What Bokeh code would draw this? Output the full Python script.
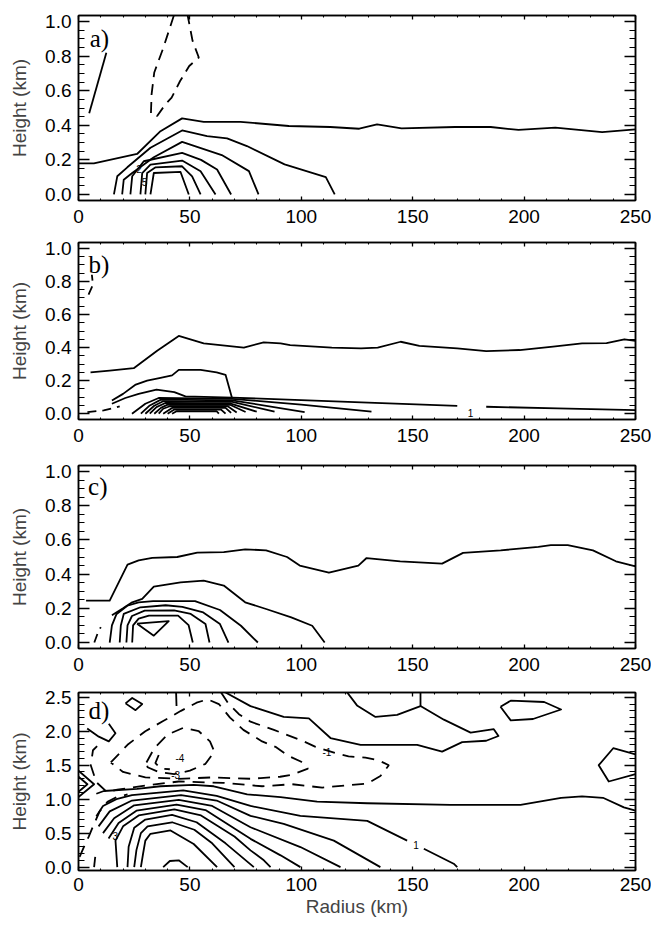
from bokeh.plotting import figure
from bokeh.layouts import column
from bokeh.models import FixedTicker, LinearAxis, Range1d, PrintfTickFormatter
from bokeh.core.properties import value
from bokeh.embed import file_html
from bokeh.resources import INLINE

# ---------------- axes ----------------
RADIUS_TICKS = [0, 50, 100, 150, 200, 250]
RADIUS_MINOR = [0, 10, 20, 30, 40, 50, 60, 70, 80, 90, 100, 110, 120, 130, 140, 150,
                160, 170, 180, 190, 200, 210, 220, 230, 240, 250]
H1_TICKS = [0.0, 0.2, 0.4, 0.6, 0.8, 1.0]
H1_MINOR = [0.0, 0.05, 0.1, 0.15, 0.2, 0.25, 0.3, 0.35, 0.4, 0.45, 0.5, 0.55, 0.6,
            0.65, 0.7, 0.75, 0.8, 0.85, 0.9, 0.95, 1.0]
H2_TICKS = [0.0, 0.5, 1.0, 1.5, 2.0, 2.5]
H2_MINOR = [0.0, 0.1, 0.2, 0.3, 0.4, 0.5, 0.6, 0.7, 0.8, 0.9, 1.0, 1.1, 1.2, 1.3, 1.4,
            1.5, 1.6, 1.7, 1.8, 1.9, 2.0, 2.1, 2.2, 2.3, 2.4, 2.5]

# ---------------- panel a contours (radius km, height km) ----------------
A_TOP_SOLID = [(4.8, 0.47), (12.5, 0.82)]
A_DASHED = [(42.8, 1.035), (38.1, 0.849), (34.0, 0.705), (32.8, 0.579), (32.5, 0.463),
            (35.3, 0.454), (39.0, 0.521), (41.8, 0.560), (45.6, 0.656), (49.7, 0.743),
            (54.0, 0.792), (51.2, 0.888), (49.0, 1.035)]
A_C1 = [(0, 0.18), (6.9, 0.18), (26.3, 0.234), (36.8, 0.366), (46.5, 0.44), (56.2, 0.42),
        (72.7, 0.42), (94.4, 0.396), (113, 0.39), (126, 0.38), (134, 0.405), (145, 0.382),
        (169, 0.39), (185, 0.39), (197.5, 0.373), (214, 0.386), (235, 0.361), (250, 0.376)]
A_C2 = [(15.9, 0.0), (17.4, 0.105), (21.9, 0.157), (32.3, 0.27), (46.5, 0.37), (57.7, 0.337),
        (66.7, 0.324), (75.6, 0.28), (92.5, 0.174), (111, 0.10), (115, 0.0)]
A_C3 = [(19.6, 0.0), (20.3, 0.085), (24.1, 0.124), (33.8, 0.215), (46.5, 0.304), (64.3, 0.228),
        (76.5, 0.135), (80.8, 0.0)]
A_C4 = [(23.3, 0.0), (24.1, 0.105), (29.3, 0.192), (46.5, 0.24), (55, 0.2), (62.2, 0.144),
        (68.5, 0.0)]
A_C5 = [(27.8, 0.0), (28.6, 0.124), (32.3, 0.172), (46.5, 0.196), (54.8, 0.134), (61.5, 0.0)]
A_C6 = [(30, 0.0), (30.8, 0.124), (34.6, 0.157), (46.5, 0.163), (51, 0.105), (54.8, 0.0)]
A_C7 = [(32.3, 0.0), (33.8, 0.124), (45.8, 0.13), (49.5, 0.0)]
A_LABELS = [(27.2, 0.15, "2"), (29.6, 0.07, "5")]

# ---------------- panel b ----------------
B_TOP_DASHED = [(4.5, 0.72), (6.5, 0.78), (6.0, 0.84)]
B_C1 = [(5.4, 0.25), (14, 0.26), (24.8, 0.275), (35.3, 0.381), (45, 0.47), (56.2, 0.425),
        (74.2, 0.40), (83.1, 0.431), (90.7, 0.425), (95, 0.415), (113.7, 0.40), (126.8, 0.395),
        (134.3, 0.40), (144.6, 0.435), (153, 0.41), (170, 0.395), (183, 0.378), (198, 0.385),
        (213, 0.405), (226, 0.425), (237, 0.427), (245, 0.45), (250, 0.44)]
B_C2 = [(15, 0.08), (20, 0.12), (25.7, 0.176), (30.8, 0.20), (36.8, 0.217), (42, 0.232),
        (45, 0.265), (54.8, 0.265), (62, 0.25), (66, 0.235), (69, 0.09)]
B_L1 = [(15, 0.06), (21, 0.095), (27, 0.12), (35, 0.145), (43, 0.13), (48, 0.105), (69, 0.097),
        (100, 0.082), (130, 0.067), (170, 0.047)]
B_L1B = [(183, 0.042), (215, 0.032), (250, 0.022)]
B_B1 = [(24, 0.0), (30, 0.06), (36, 0.095), (69, 0.09), (100, 0.055), (131.5, 0.012)]
B_B2 = [(28, 0.0), (32, 0.05), (37, 0.085), (69, 0.081), (101.5, 0.01)]
B_B3 = [(30, 0.0), (34, 0.048), (38, 0.075), (69, 0.072), (88, 0.012)]
B_B4 = [(32, 0.0), (35, 0.04), (39, 0.065), (68, 0.063), (80, 0.012)]
B_B5 = [(34, 0.0), (37, 0.035), (40, 0.055), (68, 0.054), (75, 0.01)]
B_B6 = [(36, 0.0), (38, 0.03), (41, 0.045), (67, 0.045), (71, 0.008)]
B_B7 = [(38, 0.0), (42, 0.035), (66, 0.035), (68.5, 0.005)]
B_B8 = [(40, 0.0), (43, 0.025), (64, 0.025), (66, 0.0)]
B_B9 = [(42, 0.0), (44, 0.015), (62, 0.015), (63, 0.0)]
B_DASHED_LOW = [(4, 0.01), (11.3, 0.02), (15.9, 0.035), (18.5, 0.045)]
B_LABELS = [(176, 0.005, "1")]

# ---------------- panel c ----------------
C_C1 = [(3.4, 0.245), (14, 0.245), (22, 0.455), (27, 0.48), (33.1, 0.495), (44.3, 0.5),
        (53.3, 0.525), (65.2, 0.528), (74.8, 0.545), (84.2, 0.539), (93.6, 0.50), (99.3, 0.45),
        (112.4, 0.408), (125.6, 0.45), (129.3, 0.494), (144.4, 0.475), (163.2, 0.461),
        (172.6, 0.524), (189.5, 0.539), (206.4, 0.559), (212, 0.569), (219.6, 0.569),
        (230.9, 0.539), (241.2, 0.475), (250, 0.445)]
C_C2 = [(15, 0.16), (20, 0.2), (24.1, 0.235), (28.6, 0.255), (33.8, 0.327), (45.8, 0.352),
        (56.2, 0.362), (65.2, 0.333), (74.8, 0.235), (84.2, 0.196), (95.5, 0.147),
        (104.9, 0.098), (110.5, 0.0)]
C_C3 = [(14, 0.0), (15, 0.1), (17, 0.165), (21.9, 0.215), (27, 0.235), (33.5, 0.242),
        (52.3, 0.242), (63.5, 0.19), (72.9, 0.098), (80.5, 0.0)]
C_C4 = [(18.5, 0.0), (19, 0.1), (20.3, 0.167), (27.8, 0.206), (39.1, 0.218), (46.6, 0.208),
        (56, 0.176), (63.5, 0.108), (67.3, 0.0)]
C_C5 = [(21.5, 0.0), (22, 0.1), (24, 0.155), (29.7, 0.186), (42.9, 0.188), (50.4, 0.167),
        (57, 0.108), (58.8, 0.0)]
C_C6 = [(24.1, 0.0), (24.5, 0.1), (27, 0.14), (31.6, 0.157), (44.7, 0.157), (49.4, 0.102),
        (51.3, 0.0)]
C_TRIANGLE = [(26.3, 0.11), (40.5, 0.125), (33.8, 0.04), (26.3, 0.11)]
C_DASHED = [(7.1, 0.0), (8.5, 0.05), (10, 0.09)]

# ---------------- panel d ----------------
D_D1 = [(8, 1.08), (11.4, 1.12), (26.3, 1.15), (36.8, 1.19), (51.7, 1.21), (60.7, 1.19),
        (75.7, 1.07), (90.7, 1.03), (107.1, 0.965), (129.6, 0.94), (167, 0.915),
        (198.4, 0.915), (216.6, 1.02), (226, 1.04), (235.4, 1.02), (244.8, 0.88), (250, 0.83)]
D_P1A = [(8, 0.75), (11, 0.9), (17, 1.0), (24, 1.06), (47, 1.13), (62, 1.05), (77.2, 0.90),
         (99.6, 0.755), (129.6, 0.68), (147.5, 0.39)]
D_P1B = [(155, 0.27), (168.4, 0.05), (170, 0.0)]
D_P2 = [(9, 0.6), (14, 0.82), (24, 0.98), (46, 1.06), (62, 0.98), (77.2, 0.755),
        (92.1, 0.635), (114.6, 0.39), (135.5, 0.0)]
D_P3 = [(11, 0.5), (16, 0.72), (25, 0.91), (45, 0.99), (60, 0.9), (77.2, 0.587),
        (99.6, 0.295), (117.6, 0.0)]
D_P4 = [(13.5, 0.42), (18, 0.65), (26, 0.83), (44, 0.92), (57, 0.84), (77.2, 0.416),
        (90.7, 0.173), (99.6, 0.0)]
D_P5 = [(17.4, 0.0), (16.6, 0.39), (20, 0.6), (27, 0.76), (43, 0.85), (55, 0.76), (70, 0.45),
        (77.2, 0.246), (83.2, 0.10), (86.2, 0.0)]
D_P6 = [(22, 0.0), (22.5, 0.3), (25, 0.58), (30, 0.7), (42, 0.77), (53, 0.66), (66, 0.35),
        (78.7, 0.0)]
D_P7 = [(25, 0.0), (26, 0.25), (28, 0.5), (31, 0.6), (42, 0.66), (52, 0.55), (60, 0.35),
        (70, 0.0)]
D_P8 = [(28, 0.0), (29, 0.2), (30, 0.39), (32.3, 0.49), (41.3, 0.54), (51.7, 0.34),
        (62.2, 0.0)]
D_DOME = [(38, 0.0), (41, 0.09), (45, 0.1), (49, 0.0)]
D_CHEVRON_OUT = [(0, 1.42), (7, 1.22), (0, 1.03)]
D_CHEVRON_IN = [(0, 1.33), (4, 1.22), (0, 1.11)]
D_HOOK = [(3.9, 2.04), (9.1, 1.92), (13.6, 1.85), (16.6, 1.97), (13.6, 2.11)]
D_DIAMOND = [(21.1, 2.41), (24.1, 2.49), (28.6, 2.40), (25.6, 2.31), (21.1, 2.41)]
D_TOP_TICK = [(43.8, 2.57), (44, 2.37)]
D_T1 = [(120.6, 2.57), (125, 2.38), (133.3, 2.21), (143, 2.24), (153.5, 2.37), (153.5, 2.57)]
D_T2 = [(66, 2.57), (77.2, 2.37), (92.1, 2.21), (103.4, 2.19), (113.1, 1.90), (126.6, 1.80),
        (152, 1.80), (163.2, 1.70), (172.2, 1.84), (183, 1.86), (188.5, 1.93), (186.4, 2.03),
        (176, 1.98), (164, 2.17), (153.5, 2.37)]
D_LOOP_TR = [(189.4, 2.36), (194, 2.45), (209, 2.43), (216.6, 2.32), (204, 2.18), (194, 2.16),
             (189.4, 2.36)]
D_LOOP_RIGHT = [(250, 1.66), (240, 1.75), (233.5, 1.50), (238, 1.26), (250, 1.37)]
D_Z0 = [(0.5, 0.15), (2.5, 0.3), (4.6, 0.45), (6.9, 0.63), (9.5, 0.82), (13, 0.96),
        (17, 1.03), (22, 1.07)]
D_Z0B = [(7, 0.0), (7.5, 0.15)]
D_N1 = [(64, 2.57), (67, 2.42), (72, 2.25), (77.2, 2.14), (87.7, 2.02), (101.1, 1.85),
        (106.4, 1.77), (115.3, 1.68), (121.2, 1.63), (128.8, 1.61), (134.8, 1.57),
        (139.3, 1.50), (135.5, 1.34), (129.6, 1.23), (109.4, 1.17), (95.9, 1.22),
        (82.4, 1.19), (65, 1.24), (45, 1.26), (30, 1.2), (17.4, 1.14), (12.9, 1.1),
        (8, 1.25), (5.5, 1.5), (6.5, 1.72), (9, 1.8)]
D_N2 = [(14.5, 1.54), (22, 1.8), (30, 2.0), (38, 2.15), (46, 2.3), (53, 2.42), (58, 2.47),
        (63, 2.4), (68, 2.2), (74, 2.02), (82.4, 1.85), (88.4, 1.77), (94.1, 1.64),
        (100, 1.55), (103, 1.45), (95.7, 1.36), (90.5, 1.33), (81.7, 1.31), (77.2, 1.3),
        (60, 1.32), (45, 1.3), (30, 1.32), (20, 1.4), (14.5, 1.54)]
D_N3 = [(30.5, 1.54), (34, 1.75), (40, 1.95), (47, 2.05), (54, 2.0), (59, 1.85), (61, 1.7),
        (57, 1.52), (50, 1.42), (43, 1.37), (36, 1.4), (31, 1.47), (30.5, 1.54)]
D_N4 = [(36, 1.65), (34.5, 1.53), (37, 1.45), (41, 1.44)]
D_LABELS = [(111.5, 1.70, "-1"), (43.6, 1.36, "-3"), (45.5, 1.6, "-4"), (151.5, 0.32, "1"),
            (16.5, 0.46, "3")]

PANEL_A_SOLID = [A_TOP_SOLID, A_C1, A_C2, A_C3, A_C4, A_C5, A_C6, A_C7]
PANEL_A_DASHED = [A_DASHED]
PANEL_B_SOLID = [B_C1, B_C2, B_L1, B_L1B, B_B1, B_B2, B_B3, B_B4, B_B5, B_B6, B_B7, B_B8, B_B9]
PANEL_B_DASHED = [B_TOP_DASHED, B_DASHED_LOW]
PANEL_C_SOLID = [C_C1, C_C2, C_C3, C_C4, C_C5, C_C6, C_TRIANGLE]
PANEL_C_DASHED = [C_DASHED]
PANEL_D_SOLID = [D_D1, D_P1A, D_P1B, D_P2, D_P3, D_P4, D_P5, D_P6, D_P7, D_P8, D_DOME,
                 D_CHEVRON_OUT, D_CHEVRON_IN, D_HOOK, D_DIAMOND, D_TOP_TICK, D_T1, D_T2,
                 D_LOOP_TR, D_LOOP_RIGHT]
PANEL_D_DASHED = [D_Z0, D_Z0B, D_N1, D_N2, D_N3, D_N4]

SANS = "Liberation Sans"
SERIF = "Liberation Serif"
LW = 1.8


def style_axis(ax, ticker, tick_in, minor_in, show_labels=True):
    ax.ticker = ticker
    ax.major_tick_in = tick_in
    ax.major_tick_out = 0
    ax.minor_tick_in = minor_in
    ax.minor_tick_out = 0
    ax.axis_line_width = 1.5
    ax.major_tick_line_width = 1.3
    ax.minor_tick_line_width = 1.1
    ax.axis_line_color = "black"
    if show_labels:
        ax.major_label_text_font = SANS
        ax.major_label_text_font_size = "19px"
        ax.major_label_text_color = "black"
    else:
        ax.major_label_text_font_size = "0px"
        ax.major_label_standoff = 0


def make_panel(y0, y1, yticks, yminor, frame_h, top, bottom, solid, dashed, dash,
               labels, tag, tag_xy, xlabel=None, xstand=9):
    p = figure(width=651, height=top + frame_h + bottom,
               x_range=Range1d(0, 250), y_range=Range1d(y0, y1),
               output_backend="svg", toolbar_location=None,
               min_border_left=78, min_border_right=16,
               min_border_top=top, min_border_bottom=bottom,
               background_fill_color="white", border_fill_color="white")
    p.grid.visible = False
    p.outline_line_color = "black"
    p.outline_line_width = 1.5

    xa = p.xaxis[0]
    ya = p.yaxis[0]
    style_axis(xa, FixedTicker(ticks=RADIUS_TICKS, minor_ticks=RADIUS_MINOR), 4, 2)
    xa.major_label_standoff = xstand
    style_axis(ya, FixedTicker(ticks=yticks, minor_ticks=yminor), 11, 6)
    ya.formatter = PrintfTickFormatter(format="%.1f")
    ya.major_label_standoff = 7
    ya.axis_label = "Height (km)"
    ya.axis_label_text_font = SANS
    ya.axis_label_text_font_size = "19px"
    ya.axis_label_text_font_style = "normal"
    ya.axis_label_standoff = 12
    if xlabel:
        xa.axis_label = xlabel
        xa.axis_label_text_font = SANS
        xa.axis_label_text_font_size = "19px"
        xa.axis_label_text_font_style = "normal"
        xa.axis_label_standoff = 2

    top_ax = LinearAxis()
    style_axis(top_ax, FixedTicker(ticks=RADIUS_TICKS, minor_ticks=RADIUS_MINOR), 4, 2, False)
    p.add_layout(top_ax, "above")
    right_ax = LinearAxis()
    style_axis(right_ax, FixedTicker(ticks=yticks, minor_ticks=yminor), 11, 6, False)
    p.add_layout(right_ax, "right")

    for pts in solid:
        p.line([q[0] for q in pts], [q[1] for q in pts], line_color="black", line_width=LW,
               line_join="round")
    for pts in dashed:
        p.line([q[0] for q in pts], [q[1] for q in pts], line_color="black", line_width=LW,
               line_dash=dash)
    if labels:
        p.text(x=[l[0] for l in labels], y=[l[1] for l in labels], text=[l[2] for l in labels],
               text_font=value(SANS), text_font_size="10px", text_color="black",
               text_align="center", text_baseline="middle")
    p.text(x=[tag_xy[0]], y=[tag_xy[1]], text=[tag], text_font=value(SERIF),
           text_font_size="25px", text_color="black", text_align="left",
           text_baseline="middle")
    return p


pa = make_panel(-0.035, 1.035, H1_TICKS, H1_MINOR, 185, 15, 32, PANEL_A_SOLID,
                PANEL_A_DASHED, "11 7", A_LABELS, "a)", (5.0, 0.9))
pb = make_panel(-0.035, 1.035, H1_TICKS, H1_MINOR, 177, 10, 32, PANEL_B_SOLID,
                PANEL_B_DASHED, "9 6", B_LABELS, "b)", (4.5, 0.9))
pc = make_panel(-0.035, 1.035, H1_TICKS, H1_MINOR, 183, 14, 32, PANEL_C_SOLID,
                PANEL_C_DASHED, "9 6", None, "c)", (4.3, 0.91))
pd = make_panel(-0.05, 2.57, H2_TICKS, H2_MINOR, 178, 12, 55, PANEL_D_SOLID,
                PANEL_D_DASHED, "12 8", D_LABELS, "d)", (4.5, 2.3),
                xlabel="Radius (km)", xstand=7)

layout = column(pa, pb, pc, pd, spacing=0)
open("out.html", "w").write(file_html(layout, INLINE))
